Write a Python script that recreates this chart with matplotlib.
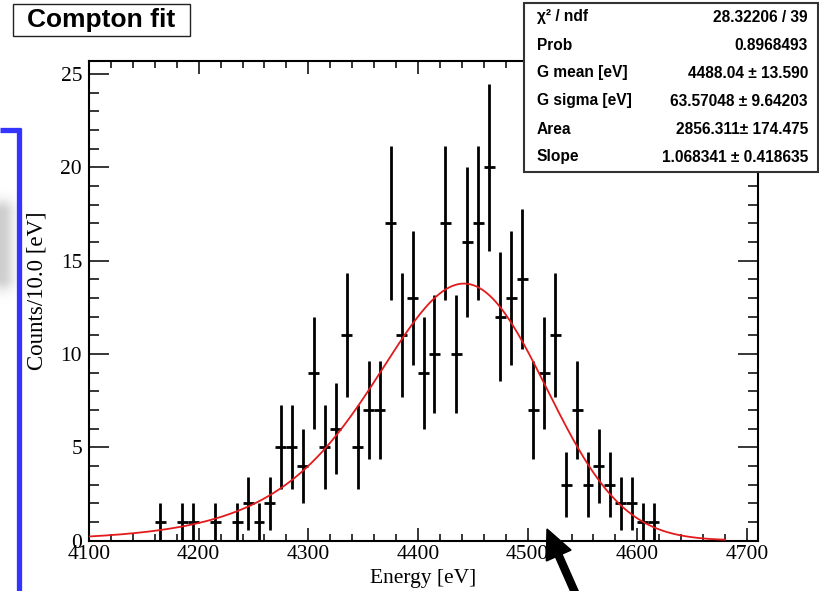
import math
import numpy as np
import matplotlib
matplotlib.use("Agg")
import matplotlib.pyplot as plt
from matplotlib.patches import Rectangle, FancyArrow
from matplotlib.lines import Line2D
from matplotlib.transforms import Affine2D
from matplotlib.ticker import MultipleLocator

# ---- histogram (10 eV bins, only non-empty bins listed) ----
bin_width = 10.0
energy = [4165, 4185, 4195, 4215, 4235, 4245, 4255, 4265, 4275, 4285, 4295,
          4305, 4315, 4325, 4335, 4345, 4355, 4365, 4375, 4385, 4395, 4405,
          4415, 4425, 4435, 4445, 4455, 4465, 4475, 4485, 4495, 4505, 4515,
          4525, 4535, 4545, 4555, 4565, 4575, 4585, 4595, 4605, 4615]
counts = [1, 1, 1, 1, 1, 2, 1, 2, 5, 5, 4,
          9, 5, 6, 11, 5, 7, 7, 17, 11, 13, 9,
          10, 17, 10, 16, 17, 20, 12, 13, 14, 7, 9,
          11, 3, 7, 3, 4, 3, 2, 2, 1, 1]

# ---- fit results ----
chi2, ndf = 28.32206, 39
prob = 0.8968493
g_mean, g_mean_err = 4488.04, 13.590
g_sigma, g_sigma_err = 63.57048, 9.64203
area, area_err = 2856.311, 174.475
slope, slope_err = 1.068341, 0.418635
fit_lo, fit_hi = 4100.0, 4680.0

x_range = (4100, 4710)
y_range = (0, 25.7)
x_ticks = [4100, 4200, 4300, 4400, 4500, 4600, 4700]
y_ticks = [0, 5, 10, 15, 20, 25]


def compton_model(x):
    """Gaussian convolved with a low-energy exponential tail."""
    lam = 1.0 / (slope * g_sigma)
    d = np.asarray(x) - g_mean
    erfc = np.vectorize(math.erfc)
    return (area * lam / 2.0 * np.exp(lam * d + 0.5 * (lam * g_sigma) ** 2)
            * erfc((d + lam * g_sigma ** 2) / (math.sqrt(2.0) * g_sigma)))


W, H = 820, 591
fig = plt.figure(figsize=(W / 100, H / 100), dpi=100)
# pixel coordinates measured from the top-left corner
px = Affine2D().scale(1 / W, -1 / H).translate(0, 1) + fig.transFigure

serif = ["Liberation Serif", "DejaVu Serif"]
sans = ["Liberation Sans", "DejaVu Sans"]

ax_l, ax_r, ax_t, ax_b = 89, 758, 61, 540.5
ax = fig.add_axes([ax_l / W, 1 - ax_b / H, (ax_r - ax_l) / W, (ax_b - ax_t) / H])

cnt = np.array(counts, dtype=float)
ax.errorbar(energy, cnt, xerr=bin_width / 2, yerr=np.sqrt(cnt), fmt="none",
            ecolor="black", elinewidth=2.0, capsize=0, zorder=3)

xf = np.linspace(fit_lo, fit_hi, 600)
ax.plot(xf, compton_model(xf), color="#e31a1c", lw=1.3, zorder=4)

ax.set_xlim(*x_range)
ax.set_ylim(*y_range)
ax.set_xticks(x_ticks)
ax.set_yticks(y_ticks)
ax.xaxis.set_minor_locator(MultipleLocator(20))
ax.yaxis.set_minor_locator(MultipleLocator(1))
for s in ax.spines.values():
    s.set_linewidth(1.5)
ax.tick_params(axis="both", which="both", direction="in", top=True, right=True,
               width=1.1, labelsize=15.5)
ax.tick_params(axis="x", which="major", length=9.5, pad=3)
ax.tick_params(axis="x", which="minor", length=5)
ax.tick_params(axis="y", which="major", length=14.5, pad=5)
ax.tick_params(axis="y", which="minor", length=7.2)
for lab in ax.get_xticklabels() + ax.get_yticklabels():
    lab.set_family(serif)

ax.set_xlabel("Energy [eV]", family=serif, fontsize=15.5, va="center")
ax.xaxis.set_label_coords(0.5, -(578 - ax_b) / (ax_b - ax_t))
ax.set_ylabel("Counts/10.0 [eV]", family=serif, fontsize=16.5, va="center")
ax.yaxis.set_label_coords(-(ax_l - 37) / (ax_r - ax_l), (ax_b - 291) / (ax_b - ax_t))

# ---- title box ----
fig.add_artist(Rectangle((13.5, 3.5), 177, 32.5, transform=px, facecolor="white",
                         edgecolor="#222222", lw=1.0, zorder=5))
fig.text(101, 20, "Compton fit", transform=px, ha="center", va="center",
         family=sans, fontsize=19, fontweight="bold", zorder=6)

# ---- statistics box ----
fig.add_artist(Rectangle((524, 3), 294, 169, transform=px, facecolor="white",
                         edgecolor="#333333", lw=1.5, zorder=5))
rows = [
    ("\u03c7\u00b2 / ndf", f"{chi2:.5f} / {ndf}"),
    ("Prob", f"{prob:.7f}"),
    ("G mean [eV]", f"{g_mean:.2f} \u00b1 {g_mean_err:.3f}"),
    ("G sigma [eV]", f"{g_sigma:.5f} \u00b1 {g_sigma_err:.5f}"),
    ("Area", f"{area:.3f}\u00b1 {area_err:.3f}"),
    ("Slope", f"{slope:.6f} \u00b1 {slope_err:.6f}"),
]
for i, (name, val) in enumerate(rows):
    yc = 17 + 28 * i
    fig.text(537, yc, name, transform=px, ha="left", va="center", family=sans,
             fontsize=11.2, fontweight="bold", zorder=6)
    fig.text(808, yc, val, transform=px, ha="right", va="center", family=sans,
             fontsize=11.2, fontweight="bold", zorder=6)

# ---- blue frame on the left ----
blue = "#3434ff"
fig.add_artist(Line2D([19, 19], [128, 595], transform=px, color=blue, lw=3.8,
                      solid_capstyle="butt", zorder=5))
fig.add_artist(Line2D([0, 21], [130, 130], transform=px, color=blue, lw=3.8,
                      solid_capstyle="butt", zorder=5))

# ---- soft grey shape at the left edge ----
gx0, gx1, gy0, gy1 = 0, 30, 160, 340
gax = fig.add_axes([gx0 / W, 1 - gy1 / H, (gx1 - gx0) / W, (gy1 - gy0) / H], zorder=-1)
gxx, gyy = np.meshgrid(np.arange(gx0, gx1) + 0.5, np.arange(gy0, gy1) + 0.5)
dx = np.maximum(gxx - 2, 0)
dy = np.maximum(np.maximum(212 - gyy, gyy - 278), 0)
dist = np.hypot(dx, dy)
alpha = 0.42 * np.exp(-(dist / 12.0) ** 2)
img = np.zeros(gxx.shape + (4,))
img[..., :3] = 0.55
img[..., 3] = alpha
gax.imshow(img, aspect="auto", interpolation="bilinear")
gax.axis("off")

# ---- arrow ----
tip = (547, 529)
tail = (577, 597)
fig.add_artist(FancyArrow(tail[0], tail[1], tip[0] - tail[0], tip[1] - tail[1],
                          width=7, head_width=27, head_length=29,
                          length_includes_head=True, transform=px,
                          color="black", zorder=7))

fig.savefig("out.png", dpi=100)
